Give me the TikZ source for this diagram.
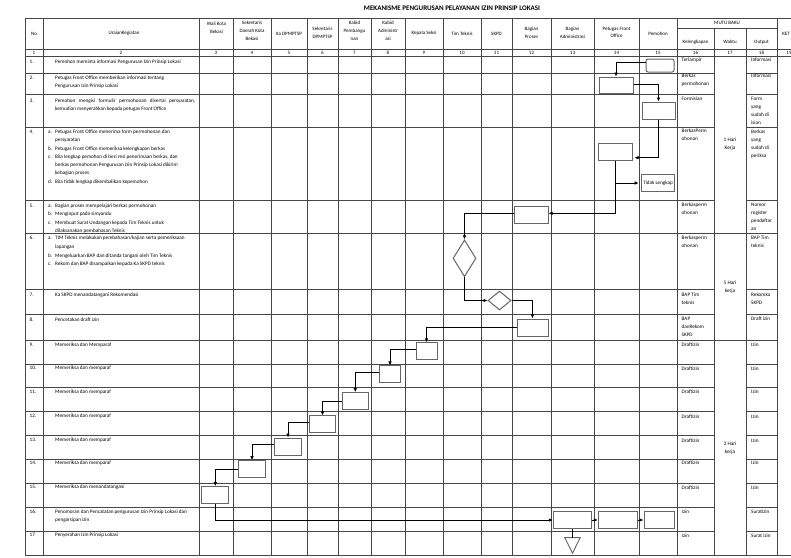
\documentclass[tikz,border=0pt]{standalone}
\usepackage{fontspec}
\setmainfont{Carlito}
\usetikzlibrary{arrows.meta,shapes.geometric,calc}

% one-column and two-column (label + text) cell contents, top line on the baseline
\newcommand{\cellt}[1]{\begin{tabular}[t]{@{}l@{}}#1\end{tabular}}
\newcommand{\listt}[1]{\begin{tabular}[t]{@{}l@{\hspace{3pt}}l@{}}#1\end{tabular}}
\newcommand{\txtsize}{\fontsize{5.2}{8}\selectfont}
\newcommand{\hdrsize}{\fontsize{5}{7.8}\selectfont}

\begin{document}
\begin{tikzpicture}[x=1pt,y=-1pt,
  tablerule/.style={draw=black!72,line width=0.6pt},
  stepbox/.style={rectangle,draw=black!60,line width=1pt,fill=white,inner sep=0pt},
  decide/.style={diamond,draw=black!60,line width=1pt,fill=white,inner sep=0pt},
  flow/.style={draw=black,line width=0.8pt,-{Latex[length=4pt,width=3.6pt]}},
  link/.style={draw=black,line width=0.8pt},
  txt/.style={anchor=base west,inner sep=0pt,font=\txtsize},
  hdr/.style={inner sep=0pt,font=\hdrsize,align=center},
]
\useasboundingbox (0,0) rectangle (791,557);
\fill[white] (0,0) rectangle (791,557);

% ---------- title ----------
\node[font=\fontsize{7}{9}\selectfont\bfseries,inner sep=0pt] (title) at (452,8) {MEKANISME PENGURUSAN PELAYANAN IZIN PRINSIP LOKASI};

% ---------- table rules ----------
\foreach \y in {18,49,56,555} \draw[tablerule] (25,\y) -- (805,\y);
\draw[tablerule] (677,28) -- (777,28);
% row separators; the Waktu column is merged in three blocks, KET in one
\foreach \y in {73,94,127,200,233,289,314,340,364,387,411,435,459,483,507,531}
  \draw[tablerule] (25,\y) -- (714,\y) (746,\y) -- (777,\y);
\foreach \y in {233,340} \draw[tablerule] (714,\y) -- (746,\y);
\foreach \x in {25,43,199,233,271,307,338,371,405,443,481,512,551,594,639,677,777}
  \draw[tablerule] (\x,18) -- (\x,555);
\foreach \x in {714,746} \draw[tablerule] (\x,28) -- (\x,555);

% ---------- header ----------
\node[hdr] (hNo) at (34,33.5) {No};
\node[hdr] (hUr) at (124,33.5) {UraianKegiatan};
\node[hdr] (h3) at (216.5,27.5) {Wali Kota\\Bekasi};
\node[hdr] (h4) at (252,31) {Sekretaris\\Daerah Kota\\Bekasi};
\node[hdr] (h5) at (289,33.5) {Ka DPMPTSP};
\node[hdr] (h6) at (322.5,32.5) {Sekretaris\\DPMPTSP};
\node[hdr] (h7) at (354.5,31) {Kabid\\Pembangu\\nan};
\node[hdr] (h8) at (388,31) {Kabid\\Administr\\asi};
\node[hdr] (h9) at (424,33.5) {Kepala Seksi};
\node[hdr] (h10) at (462,33.5) {Tim Teknis};
\node[hdr] (h11) at (496.5,33.5) {SKPD};
\node[hdr] (h12) at (531.5,32.5) {Bagian\\Proses};
\node[hdr] (h13) at (572.5,32.5) {Bagian\\Administrasi};
\node[hdr] (h14) at (616.5,32.5) {Petugas Front\\Office};
\node[hdr] (h15) at (658,33.5) {Pemohon};
\node[hdr] (hMB) at (727,23) {MUTU BAKU};
\node[hdr] (h16) at (695.5,42) {Kelengkapan};
\node[hdr] (h17) at (730,42) {Waktu};
\node[hdr] (h18) at (761.5,42) {Output};
\node[hdr] (hKet) at (786,33.5) {KET};

% column numbers
\foreach \n/\x in {1/34,2/121,3/216,4/252,5/289,6/322.5,7/354.5,8/388,9/424,10/462,
  11/496.5,12/531.5,13/572.5,14/616.5,15/658,16/695.5,17/730,18/761.5,19/789}
  \node[hdr] (num\n) at (\x,52.5) {\n};

% ---------- row numbers ----------
\foreach \n/\b in {1/63.5,2/79.8,3/102.2,4/133.2,5/207.2,6/239.8,7/296.5,8/321.5,
  9/346.5,10/369.8,11/393.2,12/417.2,13/441.2,14/464.8,15/488.2,16/513.2}
  \node[txt] (no\n) at (29.5,\b) {\n.};
\node[txt] (no17) at (29.5,536.8) {17};

% ---------- activities ----------
\node[txt] (u1) at (55,63.5) {\cellt{Pemohon meminta informasi Pengurusan Izin Prinsip Lokasi}};
\node[txt] (u2) at (55,79.8) {\cellt{Petugas Front Office memberikan informasi tentang\\Pengurusan Izin Prinsip Lokasi}};
\node[txt] (u3) at (55,102.2) {\cellt{\makebox[140pt][s]{Pemohon mengisi formulir permohonan disertai persyaratan,}\\kemudian menyerahkan kepada petugas Front Office}};
\node[txt] (u4) at (48,133.2) {\listt{a. & Petugas Front Office menerima form permohonan dan\\
  & persyaratan\\[0.8pt]
  b. & Petugas Front Office memeriksa kelengkapan berkas\\[0.8pt]
  c. & Bila lengkap pemohon di beri resi penerimaan berkas, dan\\
  & berkas permohonan Pengurusan Izin Prinsip Lokasi dikirim\\
  & kebagian proses\\[0.8pt]
  d. & Bila tidak lengkap dikembalikan kepemohon}};
\node[txt] (u5) at (48,207.2) {\listt{a. & Bagian proses mempelajari berkas permohonan\\[0.6pt]
  b. & Menginput pada simyandu\\[0.6pt]
  c. & Membuat Surat Undangan kepada Tim Teknis untuk\\
  & dilaksanakan pembahasan Teknis}};
\node[txt] (u6) at (48,239.8) {\listt{a. & TIM Teknis melakukan pembahasan/kajian serta pemeriksaan\\[0.6pt]
  & lapangan\\[0.6pt]
  b. & Mengeluarkan BAP dan ditanda tangani oleh Tim Teknis\\[0.6pt]
  c. & Rekom dan BAP disampaikan kepada Ka SKPD teknis}};
\node[txt] (u7) at (55,296.5) {Ka SKPD menandatangani Rekomendasi};
\node[txt] (u8) at (55,321.5) {Pencetakan draft izin};
\node[txt] (u9) at (55,346.5) {Memeriksa dan Memparaf};
\node[txt] (u10) at (55,369.8) {Memeriksa dan memparaf};
\node[txt] (u11) at (55,393.2) {Memeriksa dan memparaf};
\node[txt] (u12) at (55,417.2) {Memeriksa dan memparaf};
\node[txt] (u13) at (55,441.2) {Memeriksa dan memparaf};
\node[txt] (u14) at (55,464.8) {Memeriksa dan memparaf};
\node[txt] (u15) at (55,488.2) {Memeriksa dan menandatangani};
\node[txt] (u16) at (55,513.2) {\cellt{Penomoran dan Pencatatan pengurusan Izin Prinsip Lokasi dan\\pengarsipan izin}};
\node[txt] (u17) at (55,536.8) {Penyerahan Izin Prinsip Lokasi};

% ---------- Kelengkapan ----------
\node[txt] (k1) at (681.5,61.5) {Terlampir};
\node[txt] (k2) at (681.5,77.5) {\cellt{Berkas\\permohonan}};
\node[txt] (k3) at (681.5,100.8) {Formisian};
\node[txt] (k4) at (681.5,132.5) {\cellt{BerkasPerm\\ohonan}};
\node[txt] (k5) at (681.5,206.5) {\cellt{Berkasperm\\ohonan}};
\node[txt] (k6) at (681.5,239.8) {\cellt{Berkasperm\\ohonan}};
\node[txt] (k7) at (681.5,296.5) {\cellt{BAP Tim\\teknis}};
\node[txt] (k8) at (681.5,320.5) {\cellt{BAP\\danRekom\\SKPD}};
\foreach \n/\b in {9/346.5,10/370.5,11/393.8,12/418.2,13/442.2,14/464.8,15/489.2}
  \node[txt] (k\n) at (681.5,\b) {Draftizin};
\node[txt] (k16) at (681.5,513.2) {Izin};
\node[txt] (k17) at (681.5,537.5) {Izin};

% ---------- Waktu ----------
\node[hdr,font=\txtsize] (w1) at (730,144.5) {1 Hari\\Kerja};
\node[hdr,font=\txtsize] (w2) at (730,287) {5 Hari\\kerja};
\node[hdr,font=\txtsize] (w3) at (730,448) {3 Hari\\kerja};

% ---------- Output ----------
\node[txt] (o1) at (751,61.5) {Informasi};
\node[txt] (o2) at (751,77.5) {Informasi};
\node[txt] (o3) at (751,100.8) {\cellt{Form\\yang\\sudah di\\isian}};
\node[txt] (o4) at (751,133.2) {\cellt{Berkas\\yang\\sudah di\\periksa}};
\node[txt] (o5) at (751,206.5) {\cellt{Nomor\\register\\pendaftar\\an}};
\node[txt] (o6) at (751,239.8) {\cellt{BAP Tim\\teknis}};
\node[txt] (o7) at (751,296.5) {\cellt{Rekomka\\SKPD}};
\node[txt] (o8) at (751,320.5) {Draft izin};
\foreach \n/\b in {9/346.5,10/370.5,11/393.8,12/418.2,13/442.2,14/464.8,15/489.2}
  \node[txt] (o\n) at (751,\b) {Izin};
\node[txt] (o16) at (751,513.2) {Suratizin};
\node[txt] (o17) at (751,537.5) {Surat izin};

% ---------- flow symbols ----------
\node[stepbox,rounded corners=2pt,minimum width=28pt,minimum height=13pt] (b1) at (660,65.5) {};
\node[stepbox,minimum width=34pt,minimum height=16.5pt] (b2) at (616,85.3) {};
\node[stepbox,minimum width=33pt,minimum height=17pt] (b3) at (658.5,110.5) {};
\node[stepbox,minimum width=34pt,minimum height=17pt] (b4) at (615,151.5) {};
\node[stepbox,minimum width=32.6pt,minimum height=17.4pt,font=\fontsize{5.1}{6}\selectfont] (tl) at (658,183) {Tidak Lengkap};
\node[stepbox,minimum width=34pt,minimum height=17.3pt] (b5) at (531,215.3) {};
\node[decide,minimum width=23pt,minimum height=36.7pt] (d1) at (464.5,258.3) {};
\node[decide,minimum width=23pt,minimum height=19pt] (d2) at (499.5,300.5) {};
\node[stepbox,minimum width=31pt,minimum height=17pt] (b8) at (532.5,327.5) {};
\node[stepbox,minimum width=21pt,minimum height=16.5pt] (b9) at (426.5,351) {};
\node[stepbox,minimum width=21.7pt,minimum height=16.7pt] (b10) at (390,374.3) {};
\node[stepbox,minimum width=26pt,minimum height=16.7pt] (b11) at (355.3,401) {};
\node[stepbox,minimum width=26.3pt,minimum height=16.7pt] (b12) at (322.5,424.3) {};
\node[stepbox,minimum width=27.3pt,minimum height=17pt] (b13) at (288,446.5) {};
\node[stepbox,minimum width=27.7pt,minimum height=16.7pt] (b14) at (252,469) {};
\node[stepbox,minimum width=27.3pt,minimum height=16.7pt] (b15) at (215.3,495) {};
\node[stepbox,minimum width=38.3pt,minimum height=16.7pt] (b16a) at (572.5,520) {};
\node[stepbox,minimum width=39pt,minimum height=16.7pt] (b16b) at (617.8,520) {};
\node[stepbox,minimum width=30.3pt,minimum height=16.7pt] (b16c) at (659.2,520) {};
\coordinate (tritop) at ([yshift=-8.7pt]b16a.south);
\draw[draw=black!60,line width=0.9pt,fill=white] ([xshift=-7.8pt]tritop) -- ([xshift=7.8pt]tritop) -- ([yshift=-15.7pt]tritop) -- cycle;

% ---------- connectors ----------
\draw[flow] ([yshift=3.5pt]b1.west) -| (b2.north);
\draw[flow] ([yshift=1pt]b2.east) -| (b3.north);
\draw[flow,shorten >=2pt] (b3.south) |- ([yshift=-6.2pt]b4.east);
\draw[flow] (b4.south) |- ([yshift=2pt]b5.east);
\draw[flow,shorten >=2.5pt] (b4.south |- tl.west) -- (tl.west);
\draw[flow] ([yshift=2pt]b5.west) -| (d1.north);
\draw[flow] (d1.south) |- (d2.west);
\draw[flow] (d2.east) -| (b8.north);
\draw[flow] (b8.west) -| (b9.north);
\draw[flow] ([yshift=1.7pt]b9.west) -| (b10.north);
\draw[flow] ([yshift=1.6pt]b10.west) -| (b11.north);
\draw[flow] (b11.west) -| (b12.north);
\draw[flow] ([yshift=2.3pt]b12.west) -| (b13.north);
\draw[flow] ([yshift=2.5pt]b13.west) -| (b14.north);
\draw[flow] (b14.west) -| (b15.north);
\draw[flow] (b15.south) |- (b16a.west);
\draw[flow] (b16a.east) -- (b16b.west);
\draw[flow] (b16b.east) -- (b16c.west);
\draw[link] (b16a.south) -- (tritop);
\end{tikzpicture}
\end{document}
